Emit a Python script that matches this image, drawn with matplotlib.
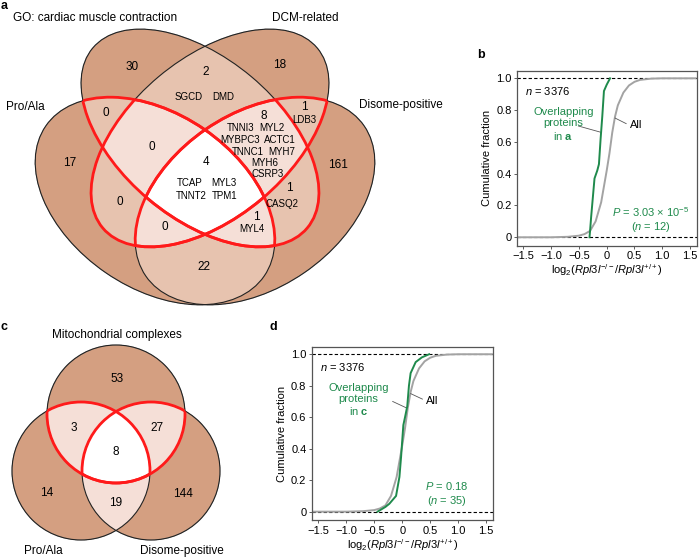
import numpy as np
import matplotlib
matplotlib.use('Agg')
import matplotlib.pyplot as plt
from matplotlib.patches import Ellipse

plt.rcParams['font.family'] = ['Liberation Sans', 'DejaVu Sans']
plt.rcParams['mathtext.fontset'] = 'custom'
plt.rcParams['mathtext.rm'] = 'Liberation Sans'
plt.rcParams['mathtext.it'] = 'Liberation Sans:italic'
plt.rcParams['mathtext.bf'] = 'Liberation Sans:bold'

# ---------------- data ----------------
# panel a: GO, DCM, Pro/Ala, Disome-positive
sets_a = ['GO: cardiac muscle contraction', 'DCM-related', 'Pro/Ala', 'Disome-positive']
counts_a = [30, 18, 17, 161, 2, 0, 0, 1, 1, 22, 0, 8, 0, 1, 4]
genes_a = ['SGCD', 'DMD',
           'TNNI3', 'MYL2', 'MYBPC3', 'ACTC1', 'TNNC1', 'MYH7', 'MYH6', 'CSRP3',
           'LDB3', 'TCAP', 'MYL3', 'TNNT2', 'TPM1', 'CASQ2', 'MYL4']

# panel c: Mitochondrial complexes, Pro/Ala, Disome-positive
sets_c = ['Mitochondrial complexes', 'Pro/Ala', 'Disome-positive']
counts_c = [53, 14, 144, 3, 27, 19, 8]

# cumulative curves
all_x = [-1.6, -1.0, -0.7, -0.5, -0.4, -0.3, -0.2, -0.1, 0.0, 0.05, 0.1, 0.15,
         0.2, 0.3, 0.4, 0.5, 0.6, 0.8, 1.0, 1.6]
all_F = [0.0, 0.0, 0.003, 0.01, 0.02, 0.04, 0.10, 0.22, 0.42, 0.53, 0.66, 0.76,
         0.83, 0.91, 0.955, 0.978, 0.99, 0.998, 1.0, 1.0]
over_a_x = [-0.31, -0.30, -0.28, -0.25, -0.22, -0.17, -0.14, -0.11, -0.08, -0.05, 0.0, 0.06]
over_a_F = [0.0, 0.04, 0.13, 0.25, 0.37, 0.42, 0.46, 0.62, 0.76, 0.92, 0.96, 1.0]
over_c_x = [-0.44, -0.30, -0.23, -0.11, -0.05, -0.02, 0.02, 0.05, 0.09, 0.12, 0.15, 0.24, 0.35, 0.48]
over_c_F = [0.0, 0.03, 0.05, 0.10, 0.22, 0.35, 0.55, 0.60, 0.67, 0.80, 0.88, 0.95, 0.98, 1.0]
n_all = 3376
n_over = [12, 35]
pvals = [r'$P$ = 3.03 × 10$^{-5}$', r'$P$ = 0.18']

# ---------------- layout ----------------
TAN = '#d4a081'
MID = '#e7c4af'
LIGHT = '#f5e0d7'
RED = '#ff1a1a'
GREEN = '#1f8a4c'

fig = plt.figure(figsize=(7.0, 5.58), dpi=100)
bg = fig.add_axes([0, 0, 1, 1], zorder=0)

# ellipses in pixel space: cx, cy, width, height, angle
ell_a = [(200, 138, 280, 160, 40), (210, 138, 280, 160, -40),
         (155, 201, 265, 174, 34.5), (255, 201, 265, 174, -34.5)]
circ_c = [(116, 414, 138, 138, 0), (81, 471, 138, 138, 0), (151, 471, 138, 138, 0)]


def inside(X, Y, e):
    cx, cy, w, h, ang = e
    t = np.deg2rad(ang)
    dx, dy = X - cx, Y - cy
    u = dx * np.cos(t) + dy * np.sin(t)
    v = -dx * np.sin(t) + dy * np.cos(t)
    return (u / (w / 2)) ** 2 + (v / (h / 2)) ** 2 <= 1


def venn(ells, groupP, groupQ, colors, box):
    x0, x1, y0, y1 = box
    xs = np.arange(x0, x1, 0.5) + 0.25
    ys = np.arange(y0, y1, 0.5) + 0.25
    X, Y = np.meshgrid(xs, ys)
    cnt = sum(inside(X, Y, e).astype(int) for e in ells)
    img = np.zeros(cnt.shape + (4,))
    for k, col in enumerate(colors, start=1):
        img[cnt == k] = matplotlib.colors.to_rgba(col)
    bg.imshow(img, extent=(x0, x1, y1, y0), origin='upper', interpolation='bilinear', zorder=1)
    for e in ells:
        bg.add_patch(Ellipse(e[:2], e[2], e[3], angle=e[4], fill=False, ec='#222222', lw=0.8, zorder=2))
    # red outline: boundaries inside (P union) x (Q union)
    for i in groupP:
        for j in groupQ:
            for a, b in ((i, j), (j, i)):
                ea = ells[a]
                eb = ells[b]
                p = Ellipse(ea[:2], ea[2], ea[3], angle=ea[4], fill=False, ec=RED, lw=2.0, zorder=3)
                bg.add_patch(p)
                clip = Ellipse(eb[:2], eb[2], eb[3], angle=eb[4], transform=bg.transData)
                p.set_clip_path(clip)


venn(ell_a, [0, 1], [2, 3], [TAN, MID, LIGHT, 'white'], (0, 470, 0, 320))
venn(circ_c, [0], [1, 2], [TAN, LIGHT, 'white'], (0, 240, 330, 558))

bg.set_xlim(0, 700)
bg.set_ylim(558, 0)
bg.axis('off')

fs_num = 8.5
fs_gene = 7

# panel a texts
set_pos_a = [(95, 18), (305, 18), (25, 107), (401, 105)]
for name, (x, y) in zip(sets_a, set_pos_a):
    bg.text(x, y, name, ha='center', va='center', fontsize=fs_num)
count_pos_a = [(132, 67), (280, 65), (70, 163), (338, 165), (206, 72), (106, 113),
               (120, 202), (304, 107), (289, 188), (204, 267), (152, 147), (264, 116),
               (165, 227), (256, 217), (206, 162)]
for c, (x, y) in zip(counts_a, count_pos_a):
    bg.text(x, y, str(c), ha='center', va='center', fontsize=fs_num)
gene_pos_a = [(189, 97), (223, 97),
              (241, 128), (272, 128), (240, 140), (280, 140), (248, 152), (282, 152),
              (265, 163), (268, 174),
              (304, 120), (190, 183), (224, 183), (191, 196), (225, 196),
              (282, 204), (252, 229)]
for g, (x, y) in zip(genes_a, gene_pos_a):
    bg.text(x, y, g, ha='center', va='center', fontsize=fs_gene)

# panel c texts
set_pos_c = [(117, 335), (43, 551), (182, 551)]
for name, (x, y) in zip(sets_c, set_pos_c):
    bg.text(x, y, name, ha='center', va='center', fontsize=fs_num)
count_pos_c = [(117, 379), (47, 493), (183, 494), (74, 428), (157, 428), (116, 503), (116, 452)]
for c, (x, y) in zip(counts_c, count_pos_c):
    bg.text(x, y, str(c), ha='center', va='center', fontsize=fs_num)

# panel letters
for letter, (x, y) in zip('abcd', [(4, 6), (481, 55), (4, 327), (273, 327)]):
    bg.text(x, y, letter, ha='center', va='center', fontsize=9, fontweight='bold')

# ---------------- CDF panels ----------------
axb = fig.add_axes([517.3 / 700, 1 - 245.7 / 558, 179.4 / 700, 174.7 / 558])
axd = fig.add_axes([312 / 700, 1 - 520 / 558, 181 / 700, 173 / 558])

xlab = r'log$_2$($\mathit{Rpl3l}^{-/-}$/$\mathit{Rpl3l}^{+/+}$)'
for ax, gx, gy, panel, n, pv in [(axb, over_a_x, over_a_F, 'a', n_over[0], pvals[0]),
                                 (axd, over_c_x, over_c_F, 'c', n_over[1], pvals[1])]:
    ax.axhline(0, color='k', ls=(0, (3, 2)), lw=0.8, zorder=1)
    ax.axhline(1, color='k', ls=(0, (3, 2)), lw=0.8, zorder=1)
    ax.plot(all_x, all_F, color='#a3a3a3', lw=1.4, zorder=2)
    ax.plot(gx, gy, color=GREEN, lw=1.4, zorder=3)
    ax.set_xlim(-1.61, 1.62)
    ax.set_ylim(-0.053, 1.046)
    ax.set_xticks([-1.5, -1.0, -0.5, 0, 0.5, 1.0, 1.5])
    ax.set_xticklabels(['−1.5', '−1.0', '−0.5', '0', '0.5', '1.0', '1.5'])
    ax.set_yticks([0, 0.2, 0.4, 0.6, 0.8, 1.0])
    ax.set_yticklabels(['0', '0.2', '0.4', '0.6', '0.8', '1.0'])
    ax.tick_params(labelsize=8, length=2.5, width=0.6, pad=1.5, color='#444444')
    for sp in ax.spines.values():
        sp.set_color('#555555')
        sp.set_linewidth(0.9)
    ax.set_ylabel('Cumulative fraction', fontsize=8, labelpad=3)
    ax.set_xlabel(xlab, fontsize=8, labelpad=1)
    ax.text(-1.47, 0.92, r'$n$ = %d' % n_all, fontsize=8, ha='left', va='center')
    ax.text(-0.78, 0.71, 'Overlapping\nproteins\nin $\\mathbf{%s}$' % panel, color=GREEN,
            fontsize=8, ha='center', va='center', linespacing=1.15)
    ax.text(0.42, 0.705, 'All', fontsize=8, ha='left', va='center')
    ax.text(0.8, 0.16, pv, color=GREEN, fontsize=8, ha='center', va='center')
    ax.text(0.8, 0.067, r'($n$ = %d)' % n, color=GREEN, fontsize=8, ha='center', va='center')

axb.plot([-0.51, -0.10], [0.70, 0.66], color='#555555', lw=0.6)
axb.plot([0.35, 0.15], [0.715, 0.75], color='#555555', lw=0.6)
axd.plot([-0.17, 0.07], [0.70, 0.66], color='#555555', lw=0.6)
axd.plot([0.36, 0.15], [0.715, 0.75], color='#555555', lw=0.6)

fig.savefig('out.png', dpi=100)
